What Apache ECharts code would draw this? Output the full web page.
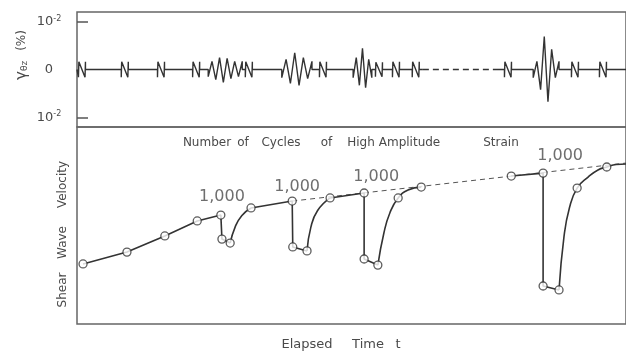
<!DOCTYPE html>
<html><head><meta charset="utf-8">
<script src="https://cdn.jsdelivr.net/npm/echarts@6/dist/echarts.min.js"></script>
<style>html,body{margin:0;padding:0;background:#fff}#c{width:626px;height:353px}</style>
</head><body><div id="c"></div>
<script>
// ---------- Top panel: shear strain record (units of 10^-2 %), time in arbitrary units 0..100 ----------
const strainTicks = [-1, 0, 1];
const strainTickText = ['10{s|-2}', '0', '10{s|-2}'];
const pulseTimes = [0.9, 8.7, 15.3, 21.7, 31.3, 44.8, 55.0, 58.1, 61.7, 78.5, 90.7, 95.8];
const pulseAmps  = [0.16, 0.16, 0.16, 0.16, 0.16, 0.16, 0.15, 0.16, 0.16, 0.16, 0.16, 0.16];
const burstStarts = [23.9, 37.3, 50.3, 83.1];
const burstEnds   = [30.1, 42.8, 53.7, 87.8];
const burstPeaks = [
  [0.15, 0.17, 0.21, 0.25, 0.27, 0.23, 0.19, 0.17, 0.15, 0.17],
  [0.17, 0.21, 0.29, 0.35, 0.33, 0.25, 0.19, 0.17],
  [0.17, 0.25, 0.33, 0.44, 0.38, 0.21, 0.17],
  [0.17, 0.17, 0.42, 0.69, 0.67, 0.42, 0.17, 0.17]
];
const recordGap = [63.0, 76.5];   // unrecorded (dashed) stretch

// ---------- Bottom panel: shear wave velocity (arbitrary units 0..100) ----------
const measuredT = [1.1, 9.1, 16.0, 21.9, 26.2, 26.4, 27.9, 31.7, 39.2, 39.3, 41.9, 46.1, 52.3, 52.3, 54.8, 58.5, 62.7, 79.1, 84.9, 84.9, 87.8, 91.1, 96.5];
const measuredV = [30.5, 36.5, 44.7, 52.3, 55.3, 43.1, 41.1, 58.9, 62.4, 39.1, 37.1, 64.0, 66.5, 33.0, 29.9, 64.0, 69.5, 75.1, 76.6, 19.3, 17.3, 69.0, 79.7];
const straightRuns = [
  [[1.1, 30.5], [9.1, 36.5], [16.0, 44.7], [21.9, 52.3], [26.2, 55.3], [26.4, 43.1], [27.9, 41.1]],
  [[31.7, 58.9], [39.2, 62.4], [39.3, 39.1], [41.9, 37.1]],
  [[46.1, 64.0], [52.3, 66.5], [52.3, 33.0], [54.8, 29.9]],
  [[79.1, 75.1], [84.9, 76.6], [84.9, 19.3], [87.8, 17.3]]
];
const recoveryCurves = [
  [[27.9, 41.1], [28.8, 49.2], [30.0, 55.0], [31.7, 58.9]],
  [[41.9, 37.1], [42.6, 49.2], [43.8, 57.5], [46.1, 64.0]],
  [[54.8, 29.9], [55.9, 46.2], [57.0, 56.5], [58.5, 64.0], [60.3, 68.0], [62.7, 69.5]],
  [[87.8, 17.3], [88.7, 44.2], [89.7, 59.0], [91.1, 69.0], [93.1, 74.6], [94.9, 78.2], [96.5, 79.7], [98.2, 81.0], [100, 81.2]]
];
const trendLine = [[39.2, 62.4], [100, 81.7]];
const cycleLabels = ['1,000', '1,000', '1,000', '1,000'];
const cycleLabelT = [26.4, 40.1, 54.5, 88.0];
const cycleLabelV = [64.6, 69.6, 74.6, 85.3];

// ---------- build the strain record ----------
function recordPoints(t0, t1) {
  const ev = [];
  pulseTimes.forEach((t, i) => { if (t >= t0 && t <= t1) ev.push({ t: t, kind: 'p', a: pulseAmps[i] }); });
  burstStarts.forEach((s, i) => { if (s >= t0 && s <= t1) ev.push({ t: s, kind: 'b', i: i }); });
  ev.sort((a, b) => a.t - b.t);
  const pts = [[t0, 0]];
  ev.forEach(e => {
    if (e.kind === 'p') {
      const h = 0.64, a = e.a;
      pts.push([e.t - h, 0], [e.t - h, -a], [e.t - h + 0.08, a], [e.t + h - 0.08, -a], [e.t + h, a], [e.t + h, 0]);
    } else {
      const pk = burstPeaks[e.i], s = burstStarts[e.i], en = burstEnds[e.i];
      pts.push([s, 0]);
      pk.forEach((a, k) => pts.push([s + k * (en - s) / (pk.length - 1), (k % 2 === 0 ? -a : a)]));
      pts.push([en, 0]);
    }
  });
  pts.push([t1, 0]);
  return pts;
}

const INK = '#333';
const TXT = '#4a4a4a';
const FONT = 'DejaVu Sans';

const series = [];
series.push({ type: 'line', xAxisIndex: 0, yAxisIndex: 0, data: recordPoints(0, recordGap[0]), showSymbol: false, lineStyle: { color: INK, width: 1.4 }, animation: false });
series.push({ type: 'line', xAxisIndex: 0, yAxisIndex: 0, data: [[recordGap[0], 0], [recordGap[1], 0]], showSymbol: false, lineStyle: { color: INK, width: 1.4, type: [6, 4] }, animation: false });
series.push({ type: 'line', xAxisIndex: 0, yAxisIndex: 0, data: recordPoints(recordGap[1], 100), showSymbol: false, lineStyle: { color: INK, width: 1.4 }, animation: false });

series.push({ type: 'line', xAxisIndex: 1, yAxisIndex: 1, data: trendLine, showSymbol: false, lineStyle: { color: '#555', width: 1, type: [5, 4] }, animation: false });
straightRuns.forEach(run => series.push({ type: 'line', xAxisIndex: 1, yAxisIndex: 1, data: run, showSymbol: false, lineStyle: { color: INK, width: 1.6 }, animation: false }));
recoveryCurves.forEach(c => series.push({ type: 'line', xAxisIndex: 1, yAxisIndex: 1, data: c, smooth: 0.5, showSymbol: false, lineStyle: { color: INK, width: 1.6 }, animation: false }));
series.push({ type: 'scatter', xAxisIndex: 1, yAxisIndex: 1, data: measuredT.map((t, i) => [t, measuredV[i]]), symbol: 'circle', symbolSize: 8, itemStyle: { color: '#fff', borderColor: INK, borderWidth: 1.3 }, z: 5, animation: false });
series.push({ type: 'scatter', xAxisIndex: 1, yAxisIndex: 1, data: cycleLabelT.map((t, i) => ({ value: [t, cycleLabelV[i]], name: cycleLabels[i] })), symbolSize: 0,
  label: { show: true, position: 'inside', formatter: p => p.name, color: TXT, fontSize: 16, fontFamily: FONT }, animation: false });

const words = [
  ['Number', 207, 143], ['of', 243, 143], ['Cycles', 281, 143], ['of', 326.5, 143],
  ['High', 361, 143], ['Amplitude', 409.5, 143], ['Strain', 501, 143]
];
const graphic = words.map(w => ({ type: 'text', x: w[1], y: w[2], style: { text: w[0], font: '12px ' + FONT, fill: TXT, align: 'center', verticalAlign: 'middle' } }));
[['Elapsed', 307], ['Time', 368], ['t', 398]].forEach(w => graphic.push({ type: 'text', x: w[1], y: 345, style: { text: w[0], font: '13px ' + FONT, fill: TXT, align: 'center', verticalAlign: 'middle' } }));
[['Shear', 290], ['Wave', 242.5], ['Velocity', 184.5]].forEach(w => graphic.push({ type: 'text', x: 63, y: w[1], rotation: Math.PI / 2, style: { text: w[0], font: '12px ' + FONT, fill: TXT, align: 'center', verticalAlign: 'middle' } }));
graphic.push({ type: 'text', x: 22, y: 55, rotation: Math.PI / 2, style: { text: '{g|γ}{s|θz}   {p|(%)}', fill: TXT, align: 'center', verticalAlign: 'middle',
  rich: { g: { fontSize: 15, fontFamily: FONT, fill: TXT }, s: { fontSize: 9, fontFamily: FONT, fill: TXT, padding: [6, 0, 0, 0] }, p: { fontSize: 12, fontFamily: FONT, fill: TXT } } } });

const chart = echarts.init(document.getElementById('c'), null, { renderer: 'canvas' });
chart.setOption({
  backgroundColor: '#fff',
  animation: false,
  grid: [
    { left: 77, top: 12, width: 549, height: 115, show: true, borderColor: '#666', borderWidth: 1.5, backgroundColor: 'transparent' },
    { left: 77, top: 127, width: 549, height: 197, show: true, borderColor: '#666', borderWidth: 1.5, backgroundColor: 'transparent' }
  ],
  xAxis: [
    { type: 'value', gridIndex: 0, min: 0, max: 100, show: false },
    { type: 'value', gridIndex: 1, min: 0, max: 100, show: false }
  ],
  yAxis: [
    { type: 'value', gridIndex: 0, min: -1.2, max: 1.2, axisLine: { show: false }, splitLine: { show: false },
      axisTick: { show: true, inside: true, length: 11, customValues: [-1, 1], lineStyle: { color: '#555', width: 1.5 } },
      axisLabel: { show: true, customValues: strainTicks, margin: 28, align: 'center', color: TXT, fontSize: 13, fontFamily: FONT,
        formatter: v => strainTickText[strainTicks.indexOf(Math.round(v))],
        rich: { s: { fontSize: 8, fontFamily: FONT, color: TXT, verticalAlign: 'top', padding: [0, 0, 6, 0] } } } },
    { type: 'value', gridIndex: 1, min: 0, max: 100, show: false }
  ],
  graphic: graphic,
  series: series
});
</script></body></html>
